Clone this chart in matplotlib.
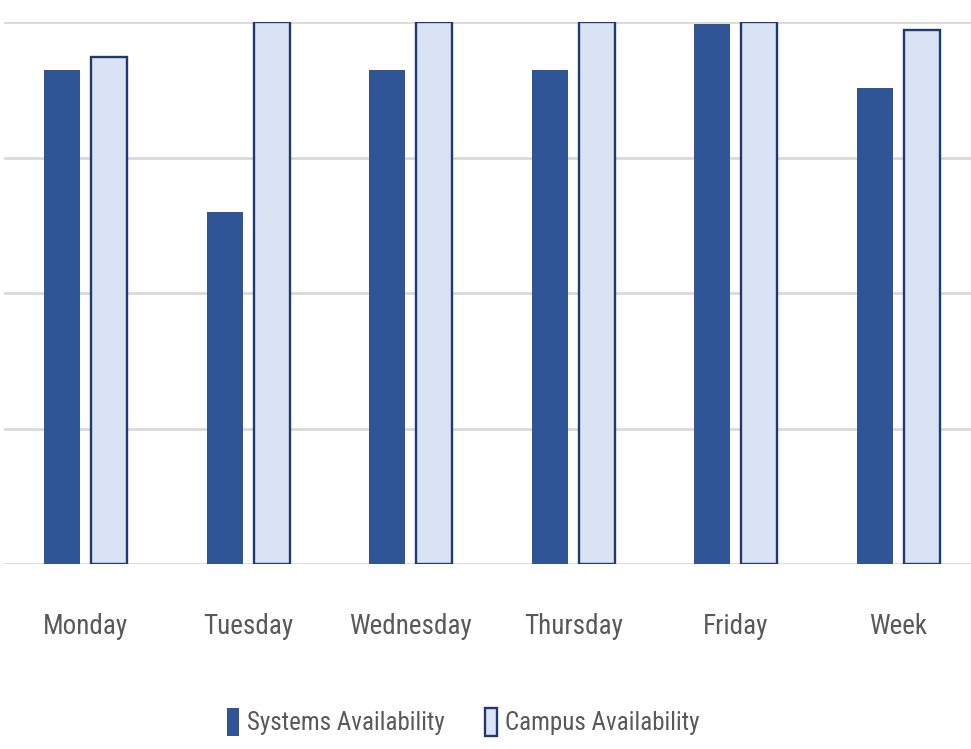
import matplotlib.pyplot as plt
import numpy as np

# Data
days = ['Monday', 'Tuesday', 'Wednesday', 'Thursday', 'Friday', 'Week']
systems = [91.1, 64.9, 91.1, 91.1, 99.6, 87.8]
campus = [93.5, 100.0, 100.0, 100.0, 100.0, 98.5]

plt.rcParams['font.family'] = ['Roboto Condensed', 'Barlow Semi Condensed', 'Liberation Sans', 'DejaVu Sans']

fig = plt.figure(figsize=(9.71, 7.49), dpi=100)
ax = fig.add_axes([0.0044, 0.247, 1.0046, 0.7236])

x = np.arange(len(days))
w = 0.222
off = 0.145

ax.bar(x - off, systems, w, color='#2F5597', label='Systems Availability', zorder=3)
ax.bar(x + off, campus, w, color='#DAE3F3', edgecolor='#1F3A73', linewidth=1.7,
       label='Campus Availability', zorder=3)

ax.set_xlim(-0.5, len(days) - 0.5)
ax.set_ylim(0, 100)
ax.set_yticks([0, 25, 50, 75, 100])
ax.yaxis.grid(True, color='#D9D9D9', linewidth=2, zorder=0)
ax.tick_params(axis='y', left=False, labelleft=False)
ax.tick_params(axis='x', length=0, pad=35, labelsize=19.5, labelcolor='#595959')
ax.set_xticks(x)
ax.set_xticklabels(days)
for s in ax.spines.values():
    s.set_visible(False)

fig.legend(loc='center', bbox_to_anchor=(0.477, 0.036), ncol=2, frameon=False,
           fontsize=18, labelcolor='#595959', handlelength=0.48, handleheight=1.4,
           handletextpad=0.32, columnspacing=1.6)

fig.savefig('out.png', dpi=100)
